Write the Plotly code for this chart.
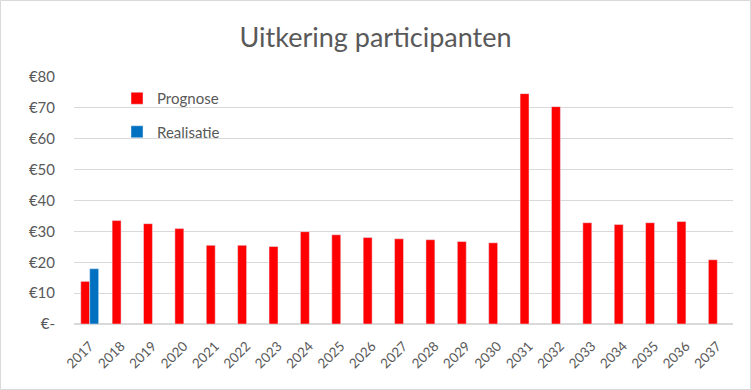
import plotly.graph_objects as go

years = [str(y) for y in range(2017, 2038)]
prognose = [13.8, 33.5, 32.5, 30.9, 25.5, 25.5, 25.1, 29.9, 28.9, 28.0,
            27.6, 27.3, 26.7, 26.3, 74.6, 70.4, 32.8, 32.2, 32.8, 33.2, 20.8]
realisatie = [17.9] + [None] * 20
ytick_vals = [0, 10, 20, 30, 40, 50, 60, 70, 80]
ytick_text = ["€-", "€10", "€20", "€30", "€40", "€50", "€60", "€70", "€80"]

W, H = 751, 390
L, R, T, B = 74, 18, 77, 66
pw, ph = W - L - R, H - T - B
FONT = "Lato"
GRAY = "#595959"

fig = go.Figure()
fig.add_trace(go.Bar(x=years, y=prognose, name="Prognose", marker_color="#FF0000",
                     legendgroup="a"))
fig.add_trace(go.Bar(x=years, y=realisatie, name="Realisatie", marker_color="#0070C0",
                     legendgroup="b"))

fig.update_layout(
    width=W, height=H,
    margin=dict(l=L, r=R, t=T, b=B),
    paper_bgcolor="white", plot_bgcolor="white",
    barmode="group", bargap=0.43, bargroupgap=0,
    title=dict(text="Uitkering participanten", x=0.5, xanchor="center",
               y=1 - 38 / H, yanchor="middle",
               font=dict(family=FONT, size=27, color=GRAY)),
    font=dict(family=FONT, color=GRAY),
    legend=dict(x=(117 - L) / pw, xanchor="left", y=(324 - 82) / ph, yanchor="top",
                bgcolor="rgba(0,0,0,0)", font=dict(size=15, color=GRAY),
                tracegroupgap=11, traceorder="grouped"),
    xaxis=dict(type="category", tickangle=-45, showgrid=False, showline=False,
               tickfont=dict(size=13.5, color=GRAY), ticks="outside", ticklen=8,
               tickcolor="white"),
    yaxis=dict(range=[0, 80], tickvals=ytick_vals, ticktext=ytick_text,
               showgrid=True, gridcolor="#D9D9D9", gridwidth=1.3,
               zeroline=True, zerolinecolor="#D9D9D9", zerolinewidth=1.5,
               tickfont=dict(size=15, color=GRAY), ticklabelstandoff=18),
    shapes=[dict(type="rect", xref="paper", yref="paper",
                 x0=(0.5 - L) / pw, x1=(W - 0.5 - L) / pw,
                 y0=(T + ph - (H - 0.5)) / ph, y1=(T + ph - 0.5) / ph,
                 line=dict(color="#D9D9D9", width=1), layer="below")],
)

fig.write_html("out.html", config={"displayModeBar": False},
               post_script="document.body.style.margin='0';")
